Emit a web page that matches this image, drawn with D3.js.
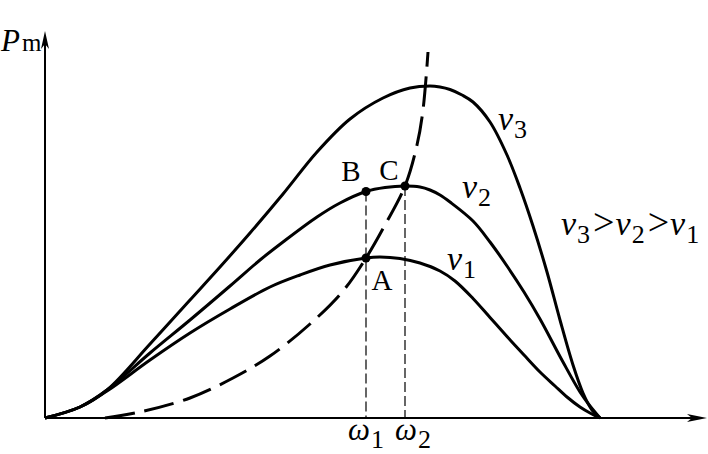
<!DOCTYPE html>
<html><head><meta charset="utf-8">
<script src="https://cdn.jsdelivr.net/npm/d3@7/dist/d3.min.js"></script>
<style>body{margin:0;background:#fff}svg{display:block}</style></head>
<body><svg id="c" width="708" height="454"></svg>
<script>
// ω (curves end at 111), P
const curveV1 = [[0,0],[7,2.2],[12.4,5.4],[21,11.6],[29,17],[37,21.8],[45,26.2],[51,28.6],[57,30.6],[64.2,32],[67,32.2],[71,31.9],[75,31],[79,29.4],[82,27.4],[85.6,23.9],[89,20.1],[92.4,16.3],[95.8,12.6],[99,9.2],[102,6.4],[104.4,4.2],[107,2.2],[109,1],[111,0]];
const curveV2 = [[0,0],[7,2.2],[12.4,5.6],[21,13],[29,19.6],[37,26.4],[43,31.6],[47.6,35.2],[54.4,40.2],[59,43],[64.2,45.3],[68,46.1],[72,46.4],[75,46.2],[77,45.6],[79,44.6],[81,43.2],[85.6,39.4],[89,35.2],[92.4,30.4],[95.8,25.2],[99,19.8],[103.6,11.2],[107,5.2],[109,2.4],[111,0]];
const curveV3 = [[0,0],[7,2.2],[12.4,5.6],[21,14.8],[29,23.6],[35,30.2],[41,37],[47.6,44.8],[54.4,53.2],[61,59.8],[67.6,64],[73,66],[77,66.4],[79,66.2],[81,65.7],[83.4,64.6],[85.6,63.2],[89,59.2],[92.4,52.6],[95,46],[97.6,38.4],[100.4,29.2],[103,19.6],[105.6,10.6],[107.6,5],[109.4,1.6],[111,0]];
const curveOpt = [[12,0],[19,1.2],[29,4],[37.6,8],[45,12.4],[53,18.8],[59.6,25.4],[64.2,32],[68,38.6],[72,46.4],[74.4,54.6],[75.6,61.6],[76.6,73.2]];
const pointNames = ["A","B","C"];
const pointW = [64.2, 64.2, 72];
const pointP = [32, 45.3, 46.4];
const omegaTicks = [64.2, 72];
const omegaTickLabels = ["1","2"];
const curveLabels = [["3", 90.6, 57.6], ["2", 83.4, 44], ["1", 80.4, 29.6]];
const relationSubs = ["3","2","1"];
const axisMax = {w: 132.4, p: 77.4};

const svg = d3.select("#c");
const x = d3.scaleLinear().domain([0,111]).range([45,600]);
const y = d3.scaleLinear().domain([0,76]).range([418,38]);
const FONT = "'Liberation Serif','Times New Roman',serif";

// axes
svg.append("line").attr("x1",x(0)).attr("y1",y(0)).attr("x2",x(axisMax.w)-14).attr("y2",y(0)).attr("stroke","#000").attr("stroke-width",2);
svg.append("line").attr("x1",x(0)).attr("y1",y(0)).attr("x2",x(0)).attr("y2",y(axisMax.p)+12).attr("stroke","#000").attr("stroke-width",2);
const tx = x(axisMax.w), ty = y(axisMax.p);
svg.append("path").attr("d",`M${tx},${y(0)} L${tx-20},${y(0)-4} L${tx-15},${y(0)} L${tx-20},${y(0)+4} Z`).attr("fill","#000");
svg.append("path").attr("d",`M${x(0)},${ty} L${x(0)-4},${ty+18} L${x(0)},${ty+13} L${x(0)+4},${ty+18} Z`).attr("fill","#000");

// vertical dashed lines
const vTop = [pointP[1], pointP[2]];
omegaTicks.forEach((w,i)=>{
  svg.append("line").attr("x1",x(w)).attr("x2",x(w)).attr("y1",y(vTop[i])).attr("y2",y(0))
    .attr("stroke","#000").attr("stroke-width",1.2).attr("stroke-dasharray","10,4");
});

const line = d3.line().x(d=>x(d[0])).y(d=>y(d[1])).curve(d3.curveCatmullRom.alpha(0.5));
[curveV1, curveV2, curveV3].forEach(c=>{
  svg.append("path").attr("d",line(c)).attr("fill","none").attr("stroke","#000").attr("stroke-width",3);
});
svg.append("path").attr("d",line(curveOpt)).attr("fill","none").attr("stroke","#000").attr("stroke-width",3).attr("stroke-dasharray","30,10");

// points
pointNames.forEach((n,i)=>{
  svg.append("circle").attr("cx",x(pointW[i])).attr("cy",y(pointP[i])).attr("r",4.5).attr("fill","#000");
});

function txt(xp, yp, size){ return svg.append("text").attr("x",xp).attr("y",yp).attr("font-family",FONT).attr("font-size",size).attr("fill","#000"); }

// point labels
txt(x(pointW[0])+16, y(pointP[0])+32, 29).attr("text-anchor","middle").text(pointNames[0]);
txt(x(pointW[1])-15, y(pointP[1])-11, 29).attr("text-anchor","middle").text(pointNames[1]);
txt(x(pointW[2])-16, y(pointP[2])-6, 29).attr("text-anchor","middle").text(pointNames[2]);

// axis label
let t = txt(1, 51, 31);
t.append("tspan").attr("font-style","italic").text("P");
t.append("tspan").attr("font-size",25).attr("dx",2).text("m");

const omegaOffsets = [-18, -10];
omegaTicks.forEach((w,i)=>{
  const tt = txt(x(w)+omegaOffsets[i], 440, 31);
  tt.append("tspan").attr("font-style","italic").text("ω");
  tt.append("tspan").attr("font-size",26).attr("dy",8).attr("dx",1).text(omegaTickLabels[i]);
});

// curve labels
curveLabels.forEach(([s,w,p])=>{
  const tt = txt(x(w), y(p), 34);
  tt.append("tspan").attr("font-style","italic").text("v");
  tt.append("tspan").attr("font-size",26).attr("dy",8).attr("dx",1).text(s);
});

// relation
const rel = txt(561, 235, 34);
relationSubs.forEach((s,i)=>{
  rel.append("tspan").attr("font-style","italic").attr("dx", i===0?0:1).text("v");
  rel.append("tspan").attr("font-size",26).attr("dy",8).attr("dx",1).text(s);
  if(i<relationSubs.length-1) rel.append("tspan").attr("font-size",38).attr("dy",-8).attr("dx",3).text(">");
});
</script></body></html>
